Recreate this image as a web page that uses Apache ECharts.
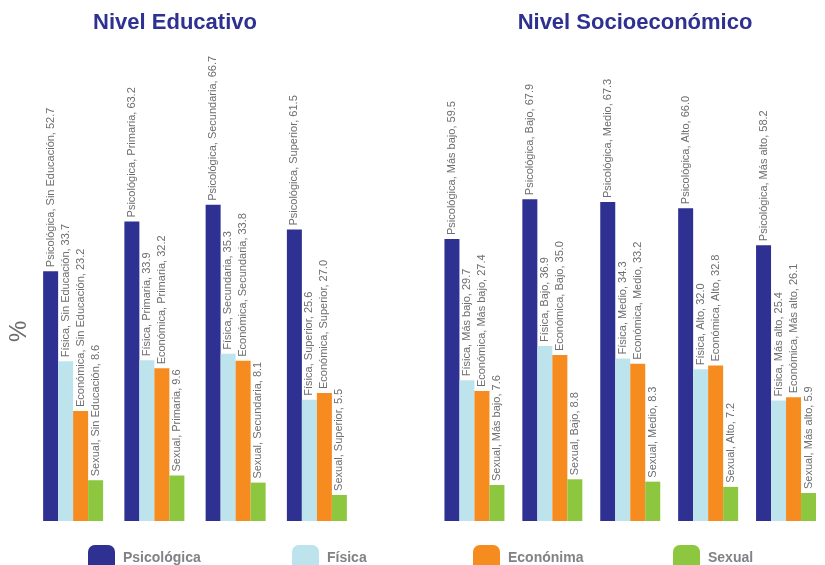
<!DOCTYPE html>
<html>
<head>
<meta charset="utf-8">
<script src="https://cdn.jsdelivr.net/npm/echarts@6/dist/echarts.min.js"></script>
<style>
  html, body { margin: 0; padding: 0; background: #ffffff; }
  #chart { width: 825px; height: 565px; }
</style>
</head>
<body>
<div id="chart"></div>
<script>
// Categories for each panel
const educCategories = ['Sin Educación', 'Primaria', 'Secundaria', 'Superior'];
const socioCategories = ['Más bajo', 'Bajo', 'Medio', 'Alto', 'Más alto'];

// Violence type names: legend names and the names used inside bar labels
const legendNames = ['Psicológica', 'Física', 'Econónima', 'Sexual'];
const labelNames = ['Psicológica', 'Física', 'Económica', 'Sexual'];

// Nivel Educativo (%)
const educPsicologica = [52.7, 63.2, 66.7, 61.5];
const educFisica      = [33.7, 33.9, 35.3, 25.6];
const educEconomica   = [23.2, 32.2, 33.8, 27.0];
const educSexual      = [8.6, 9.6, 8.1, 5.5];

// Nivel Socioeconómico (%)
const socioPsicologica = [59.5, 67.9, 67.3, 66.0, 58.2];
const socioFisica      = [29.7, 36.9, 34.3, 32.0, 25.4];
const socioEconomica   = [27.4, 35.0, 33.2, 32.8, 26.1];
const socioSexual      = [7.6, 8.8, 8.3, 7.2, 5.9];

const colors = ['#2e3192', '#bde4ec', '#f68b1f', '#8dc63f'];
const labelFont = '"Liberation Sans Narrow", "Liberation Sans", Arial, sans-serif';
const boldFont = '"Liberation Sans", Arial, sans-serif';

const chart = echarts.init(document.getElementById('chart'), null, { renderer: 'canvas' });

function makeSeries(axisIndex, cats, valuesList) {
  return valuesList.map((vals, i) => ({
    name: legendNames[i],
    type: 'bar',
    xAxisIndex: axisIndex,
    yAxisIndex: axisIndex,
    data: vals,
    barWidth: 15,
    barGap: '0%',
    itemStyle: { color: colors[i] },
    label: {
      show: true,
      position: 'top',
      rotate: 90,
      align: 'left',
      verticalAlign: 'middle',
      distance: 4,
      color: '#6d6e71',
      fontSize: 11,
      fontFamily: labelFont,
      formatter: p => labelNames[i] + ', ' + cats[p.dataIndex] + ', ' + p.value.toFixed(1)
    }
  }));
}

const gridTop = 141.8;
const gridHeight = 379.2;

function legendAt(name, left) {
  return {
    data: [name],
    left: left,
    top: 545,
    padding: 0,
    itemWidth: 27,
    itemHeight: 27,
    icon: 'roundRect',
    selectedMode: false,
    textStyle: {
      color: '#808285',
      fontSize: 14,
      fontWeight: 'bold',
      fontFamily: boldFont,
      padding: [0, 0, 0, 3]
    }
  };
}

chart.setOption({
  animation: false,
  title: [
    {
      text: 'Nivel Educativo',
      left: 170, top: 7, textAlign: 'center',
      textStyle: { color: '#2e3192', fontSize: 22, fontWeight: 'bold', fontFamily: boldFont }
    },
    {
      text: 'Nivel Socioeconómico',
      left: 630, top: 7, textAlign: 'center',
      textStyle: { color: '#2e3192', fontSize: 22, fontWeight: 'bold', fontFamily: boldFont }
    }
  ],
  legend: [
    legendAt(legendNames[0], 88),
    legendAt(legendNames[1], 292),
    legendAt(legendNames[2], 473),
    legendAt(legendNames[3], 673)
  ],
  grid: [
    { left: 32.5, top: gridTop, width: 325, height: gridHeight },
    { left: 435.5, top: gridTop, width: 405, height: gridHeight }
  ],
  xAxis: [
    {
      type: 'category', gridIndex: 0, data: educCategories,
      axisLine: { show: false }, axisTick: { show: false }, axisLabel: { show: false }
    },
    {
      type: 'category', gridIndex: 1, data: socioCategories,
      axisLine: { show: false }, axisTick: { show: false }, axisLabel: { show: false }
    }
  ],
  yAxis: [
    {
      type: 'value', gridIndex: 0, min: 0, max: 80,
      name: '%', nameLocation: 'middle', nameGap: 1, nameRotate: 90,
      nameTextStyle: { color: '#6d6e71', fontSize: 24, fontFamily: labelFont },
      axisLine: { show: false }, axisTick: { show: false },
      axisLabel: { show: false }, splitLine: { show: false }
    },
    {
      type: 'value', gridIndex: 1, min: 0, max: 80,
      axisLine: { show: false }, axisTick: { show: false },
      axisLabel: { show: false }, splitLine: { show: false }
    }
  ],
  series: [
    ...makeSeries(0, educCategories, [educPsicologica, educFisica, educEconomica, educSexual]),
    ...makeSeries(1, socioCategories, [socioPsicologica, socioFisica, socioEconomica, socioSexual])
  ]
});
</script>
</body>
</html>
